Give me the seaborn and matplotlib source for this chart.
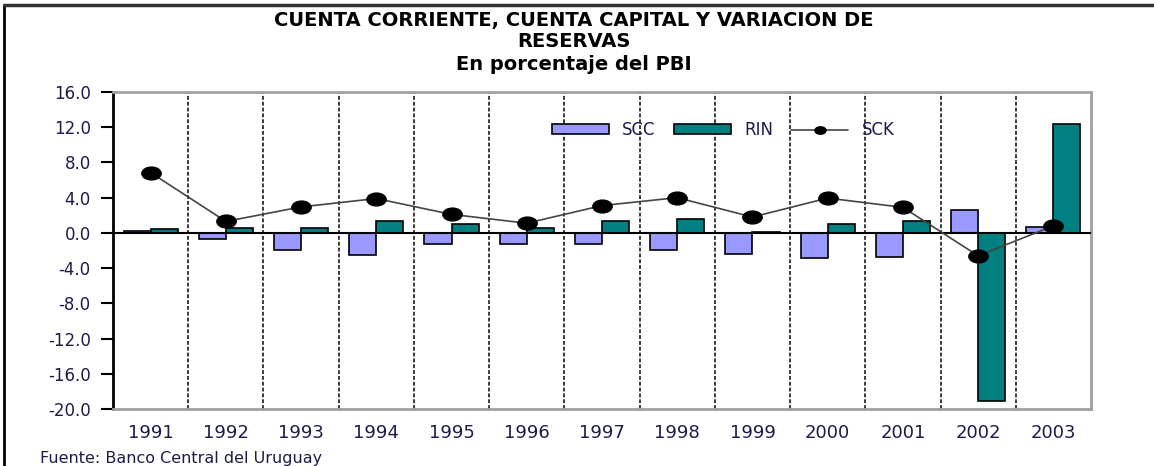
import pandas as pd
import numpy as np
import matplotlib
matplotlib.use("Agg")
import matplotlib.pyplot as plt
import seaborn as sns
from matplotlib.path import Path
from matplotlib.transforms import Affine2D
from matplotlib.patches import Patch
from matplotlib.lines import Line2D

# ── Datos (% del PBI) ────────────────────────────────────────────────────
years = ["1991", "1992", "1993", "1994", "1995", "1996", "1997",
         "1998", "1999", "2000", "2001", "2002", "2003"]
scc = [0.2, -0.7, -2.0, -2.5, -1.25, -1.3, -1.3, -2.0, -2.4, -2.9, -2.7, 2.6, 0.65]
rin = [0.45, 0.6, 0.6, 1.3, 1.0, 0.55, 1.4, 1.6, 0.1, 1.0, 1.4, -19.1, 12.4]
sck = [6.85, 1.3, 2.95, 3.9, 2.1, 1.1, 3.1, 4.0, 1.8, 3.95, 2.9, -2.6, 0.8]
yticks = [16, 12, 8, 4, 0, -4, -8, -12, -16, -20]

bars = pd.DataFrame({
    "anio": years * 2,
    "serie": ["SCC"] * len(years) + ["RIN"] * len(years),
    "valor": scc + rin,
})

C_SCC = "#9999FF"
C_RIN = "#008080"
TXT = "#1c1c48"

sns.set_theme(style="white")
plt.rcParams["font.family"] = ["DejaVu Sans"]

fig = plt.figure(figsize=(11.54, 4.66), dpi=100)
ax = fig.add_axes([0.0979, 0.1223, 0.8475, 0.6803])

sns.barplot(data=bars, x="anio", y="valor", hue="serie", order=years,
            hue_order=["SCC", "RIN"],
            palette={"SCC": C_SCC, "RIN": C_RIN}, saturation=1,
            width=0.72, gap=0, edgecolor="black", linewidth=1.2,
            legend=False, ax=ax, zorder=3)

# marcador eliptico como en el original
ell = Path.unit_circle().transformed(Affine2D().scale(1.5, 1.0))
sns.pointplot(x=years, y=sck, order=years, color="black", marker=ell,
              markersize=14, linewidth=1.2, errorbar=None, ax=ax)
for ln in ax.lines:
    ln.set_color("#444444")
    ln.set_markerfacecolor("black")
    ln.set_markeredgecolor("black")
    ln.set_zorder(5)

# separadores de categoria
for i in range(len(years) - 1):
    ax.axvline(i + 0.5, color="#3a3a3a", linestyle=(0, (2, 1)),
               linewidth=1.4, zorder=1)
ax.axhline(0, color="black", linewidth=1.5, zorder=4)

ax.set_xlim(-0.5, len(years) - 0.5)
ax.set_ylim(-20, 16)
ax.set_yticks(yticks)
ax.set_yticklabels([f"{v:.1f}" for v in yticks], color=TXT, fontsize=12)
ax.tick_params(axis="y", direction="out", length=9, width=1.5,
               color="black", left=True, pad=7)
ax.tick_params(axis="x", length=0, pad=11, labelsize=13, labelcolor=TXT)
ax.set_xlabel("")
ax.set_ylabel("")

for s in ["top", "right", "bottom"]:
    ax.spines[s].set_color("#a0a0a0")
    ax.spines[s].set_linewidth(2)
ax.spines["left"].set_color("black")
ax.spines["left"].set_linewidth(2)

# leyenda
handles = [
    Patch(facecolor=C_SCC, edgecolor="black", linewidth=1.2),
    Patch(facecolor=C_RIN, edgecolor="black", linewidth=1.2),
    Line2D([], [], color="#444444", linewidth=1.2, marker=ell,
           markersize=8, markerfacecolor="black", markeredgecolor="black"),
]
ax.legend(handles, ["SCC", "RIN", "SCK"], ncol=3, frameon=False,
          loc="center", bbox_to_anchor=(0.624, 0.88), fontsize=12,
          handlelength=3.4, handleheight=0.5, handletextpad=0.8,
          columnspacing=1.1, labelcolor=TXT)

# titulo
TITLE_KW = dict(ha="center", va="center", fontsize=14, fontweight="bold",
                color="black")
fig.text(0.497, 0.957, "CUENTA CORRIENTE, CUENTA CAPITAL Y VARIACION DE",
         **TITLE_KW)
fig.text(0.497, 0.910, "RESERVAS", **TITLE_KW)
fig.text(0.497, 0.861, "En porcentaje del PBI", **TITLE_KW)

fig.text(0.035, 0.017, "Fuente: Banco Central del Uruguay", ha="left",
         va="center", fontsize=11.5, color=TXT)

# marco de la figura (izquierda y arriba)
fig.add_artist(Line2D([0.0035, 0.0035], [0, 0.99], color="black",
                      linewidth=2, transform=fig.transFigure))
fig.add_artist(Line2D([0.0035, 1], [0.99, 0.99], color="#333333",
                      linewidth=2.5, transform=fig.transFigure))

plt.savefig("out.png", dpi=100)
plt.close()
